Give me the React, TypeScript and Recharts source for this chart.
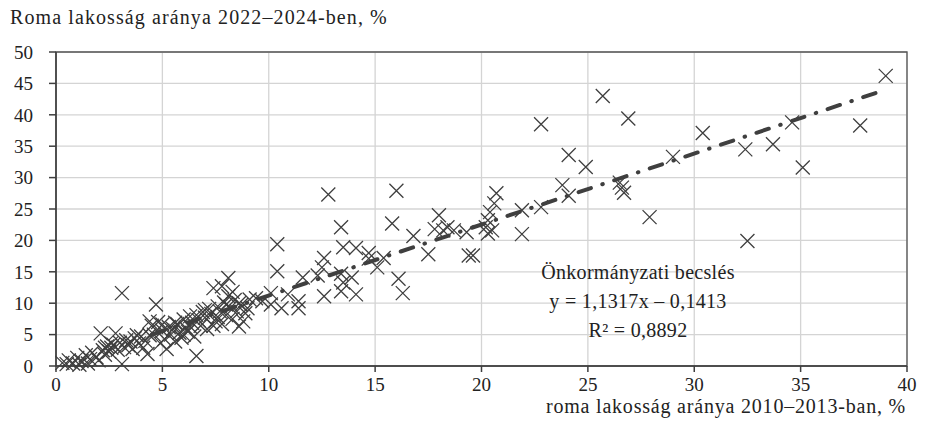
import React from "react"
import {
  ScatterChart,
  Scatter,
  XAxis,
  YAxis,
  CartesianGrid,
  ReferenceArea,
} from "recharts"

const xTicks = [0, 5, 10, 15, 20, 25, 30, 35, 40]
const yTicks = [0, 5, 10, 15, 20, 25, 30, 35, 40, 45, 50]

// roma share 2010–2013 vs 2022–2024, [x, y]
const lowPoints: [number, number][] = [
  [0.3, 0.5], [0.5, 0.3], [0.6, 0.9], [0.8, 0.4], [1.0, 1.3], [1.1, 0.2], [1.2, 0.8],
  [1.4, 1.7], [1.5, 0.4], [1.6, 1.1], [1.7, 2.1], [1.9, 1.4], [2.0, 0.9], [2.1, 5.2],
  [2.2, 2.5], [2.3, 1.8], [2.3, 2.9], [2.4, 3.1], [2.5, 2.3], [2.6, 2.9], [2.6, 3.6],
  [2.7, 3.4], [2.8, 5.2], [2.9, 2.6], [3.0, 3.7], [3.1, 11.6], [3.1, 0.3], [3.2, 3.0],
  [3.3, 4.1], [3.4, 3.3], [3.5, 3.9], [3.6, 2.7], [3.7, 4.4], [3.8, 4.9], [3.9, 3.6],
  [4.0, 4.7], [4.1, 2.9], [4.2, 4.0], [4.3, 1.9], [4.4, 7.1], [4.4, 4.9], [4.5, 6.4],
  [4.6, 5.0], [4.7, 9.8], [4.8, 7.0], [4.9, 3.6], [5.0, 5.6], [5.0, 6.6], [5.1, 4.3],
  [5.2, 2.7], [5.3, 6.2], [5.4, 5.0], [5.5, 5.9], [5.6, 3.9], [5.6, 6.9], [5.7, 6.7],
  [5.8, 5.3], [5.9, 4.5], [6.0, 7.4], [6.0, 5.0], [6.1, 6.1], [6.2, 5.5], [6.3, 7.9],
  [6.3, 6.3], [6.4, 6.9], [6.5, 4.7], [6.6, 1.6], [6.6, 8.1], [6.7, 7.3], [6.8, 6.4],
  [6.9, 8.6], [7.0, 7.7], [7.0, 8.9], [7.1, 5.9], [7.2, 9.1], [7.3, 8.3], [7.4, 12.4],
  [7.4, 6.4], [7.5, 7.1], [7.6, 9.5], [7.6, 7.8], [7.7, 8.7], [7.8, 12.7], [7.8, 6.7],
  [7.9, 10.1], [8.0, 8.1], [8.0, 9.8], [8.1, 14.0], [8.1, 11.1], [8.2, 9.3], [8.3, 7.5],
  [8.3, 11.8], [8.4, 10.5], [8.5, 8.7], [8.6, 6.3], [8.6, 10.0], [8.7, 9.7], [8.8, 7.1],
  [8.9, 8.4], [9.0, 9.2],
]

const midPoints: [number, number][] = [
  [9.1, 10.6], [9.4, 10.8], [9.7, 10.3], [10.1, 11.6], [10.1, 9.8], [10.4, 19.4],
  [10.4, 15.1], [10.6, 9.2], [10.9, 11.4], [11.4, 10.3], [11.4, 9.2], [11.6, 14.1],
  [12.3, 14.4], [12.5, 15.7], [12.6, 17.2], [12.6, 11.1], [12.8, 27.3], [13.4, 22.1],
  [13.4, 14.7], [13.5, 13.3], [13.4, 11.9], [13.5, 18.9], [13.9, 14.1], [14.1, 18.8],
  [14.1, 11.4], [14.7, 18.0], [14.7, 17.1], [15.1, 15.7], [15.4, 17.2], [15.8, 22.7],
  [16.0, 27.9], [16.1, 13.9], [16.3, 11.6], [16.8, 20.7], [17.5, 17.8], [17.8, 21.8],
  [18.0, 24.0], [18.2, 21.6], [18.4, 22.1], [18.7, 21.6], [19.3, 21.3], [19.4, 17.6],
  [19.6, 17.6], [20.2, 22.1], [20.3, 23.2], [20.3, 21.1], [20.4, 24.5], [20.5, 21.6],
  [20.6, 25.9], [20.7, 27.5],
]

const highPoints: [number, number][] = [
  [21.9, 24.8], [21.9, 21.0], [22.8, 38.5], [22.8, 25.3], [23.8, 28.8], [24.1, 33.6],
  [24.1, 27.1], [24.9, 31.7], [25.7, 43.0], [26.5, 29.2], [26.6, 28.4], [26.7, 27.6],
  [26.9, 39.4], [27.9, 23.7], [29.0, 33.3], [30.4, 37.1], [32.4, 34.5], [32.5, 19.9],
  [33.7, 35.3], [34.6, 38.8], [35.1, 31.6], [37.8, 38.3], [39.0, 46.2],
]

// endpoints of the fitted line
const trendX = [4.5, 39.0]
const trendY = [5.0, 44.0]

const points = [...lowPoints, ...midPoints, ...highPoints].map(([x, y]) => ({ x, y }))
const trend = trendX.map((x, i) => ({ x, y: trendY[i] }))

const ink = "#3f3f3f"
const font = "'Liberation Serif', 'DejaVu Serif', serif"

const Cross = (props: any) => {
  const { cx, cy } = props
  if (cx == null || cy == null) return <g />
  const s = 7
  return (
    <path
      d={`M${cx - s},${cy - s}L${cx + s},${cy + s}M${cx - s},${cy + s}L${cx + s},${cy - s}`}
      stroke={ink}
      strokeWidth={1.3}
      fill="none"
    />
  )
}

export default function App() {
  return (
    <div
      style={{
        position: "absolute",
        left: 0,
        top: 0,
        width: 928,
        height: 430,
        background: "#fff",
        fontFamily: font,
        color: "#222",
      }}
    >
      <div
        style={{
          position: "absolute",
          left: 10,
          top: 6,
          fontSize: 20,
          letterSpacing: 1.1,
          whiteSpace: "nowrap",
        }}
      >
        Roma lakosság aránya 2022–2024-ben, %
      </div>
      <ScatterChart
        width={928}
        height={430}
        margin={{ top: 52, right: 21, left: 10, bottom: 34 }}
      >
        <CartesianGrid stroke="#d4d4d4" strokeWidth={1.3} />
        <XAxis
          type="number"
          dataKey="x"
          domain={[0, 40]}
          ticks={xTicks}
          height={30}
          tickSize={6}
          tickMargin={6}
          stroke={ink}
          strokeWidth={1.5}
          tick={{ fill: "#222", fontSize: 19, fontFamily: font }}
        />
        <YAxis
          type="number"
          dataKey="y"
          domain={[0, 50]}
          ticks={yTicks}
          width={46}
          tickSize={7}
          tickMargin={16}
          stroke={ink}
          strokeWidth={1.5}
          tick={{ fill: "#222", fontSize: 19, fontFamily: font }}
        />
        <ReferenceArea x1={0} x2={40} y1={0} y2={50} fill="none" stroke="#555" strokeWidth={1.3} />
        <Scatter data={points} shape={Cross} isAnimationActive={false} />
        <Scatter
          data={trend}
          shape={() => <g />}
          line={{
            stroke: ink,
            strokeWidth: 4,
            strokeDasharray: "13 12 0.5 12",
            strokeLinecap: "round",
          }}
          isAnimationActive={false}
        />
      </ScatterChart>
      <div
        style={{
          position: "absolute",
          left: 500,
          top: 258,
          width: 276,
          textAlign: "center",
          fontSize: 20,
          letterSpacing: 0.3,
          lineHeight: "29px",
        }}
      >
        <div>Önkormányzati becslés</div>
        <div>y = 1,1317x – 0,1413</div>
        <div>R² = 0,8892</div>
      </div>
      <div
        style={{
          position: "absolute",
          right: 22,
          top: 395,
          fontSize: 20,
          letterSpacing: 0.8,
          whiteSpace: "nowrap",
        }}
      >
        roma lakosság aránya 2010–2013-ban, %
      </div>
    </div>
  )
}
